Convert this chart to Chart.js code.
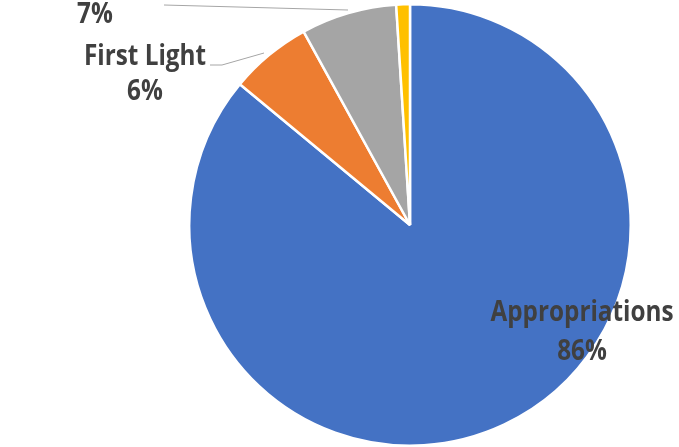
<!DOCTYPE html>
<html>
<head>
<meta charset="utf-8">
<script src="https://cdn.jsdelivr.net/npm/chart.js@4"></script>
<style>
  html, body { margin: 0; padding: 0; background: #fff; }
  #wrap { width: 679px; height: 447px; }
</style>
</head>
<body>
<div id="wrap"><canvas id="pieChart" width="679" height="447"></canvas></div>
<script>
// Slices, clockwise from 12 o'clock
const labels = ['Appropriations', 'First Light', 'Other', 'Misc']
const values = [86, 6, 7, 1]
const colors = ['#4472c4', '#ed7d31', '#a5a5a5', '#ffc000']

// Label placement relative to pie centre (px): name line, percent line, leader line
const labelLayout = [
  { dx: 172, nameDy: 88, pctDy: 127 },
  { dx: -265, nameDy: -168, pctDy: -133, line: [[-200, -160], [-188, -160], [-146, -172]] },
  { dx: -315, nameDy: null, pctDy: -210, line: [[-246, -220], [-62, -215]] },
  null
]

// text drawn a little taller than wide, closer to the narrow original face
function tallText(ctx, text, x, y) {
  ctx.save()
  ctx.translate(x, y)
  ctx.scale(1, 1.15)
  ctx.fillText(text, 0, 0)
  ctx.restore()
}

const labelPlugin = {
  id: 'sliceLabels',
  afterDatasetsDraw(chart) {
    const ctx = chart.ctx
    const arc = chart.getDatasetMeta(0).data[0]
    const cx = arc.x, cy = arc.y
    const total = values.reduce((a, b) => a + b, 0)
    ctx.save()
    // size the font so "Appropriations" is about as wide as in the original
    let size = 24
    ctx.font = 'bold ' + size + 'px "Open Sans"'
    size = size * 183 / ctx.measureText(labels[0]).width
    ctx.font = 'bold ' + size.toFixed(1) + 'px "Open Sans"'
    labelLayout.forEach((lay, i) => {
      if (!lay) return
      if (lay.line) {
        ctx.strokeStyle = '#a6a6a6'
        ctx.lineWidth = 1
        ctx.beginPath()
        lay.line.forEach((p, j) => {
          if (j === 0) ctx.moveTo(cx + p[0], cy + p[1])
          else ctx.lineTo(cx + p[0], cy + p[1])
        })
        ctx.stroke()
      }
      ctx.fillStyle = '#404040'
      ctx.textAlign = 'center'
      ctx.textBaseline = 'middle'
      const pct = Math.round(values[i] / total * 100) + '%'
      const x = cx + lay.dx
      if (lay.nameDy !== null) tallText(ctx, labels[i], x, cy + lay.nameDy)
      tallText(ctx, pct, x, cy + lay.pctDy)
    })
    ctx.restore()
  }
}

new Chart(document.getElementById('pieChart'), {
  type: 'pie',
  data: {
    labels: labels,
    datasets: [{
      data: values,
      backgroundColor: colors,
      borderColor: '#ffffff',
      borderWidth: 2.5
    }]
  },
  options: {
    responsive: false,
    animation: false,
    layout: { padding: { top: 3, bottom: 0, left: 188, right: 47 } },
    plugins: {
      legend: { display: false },
      tooltip: { enabled: false }
    }
  },
  plugins: [labelPlugin]
})
</script>
</body>
</html>
